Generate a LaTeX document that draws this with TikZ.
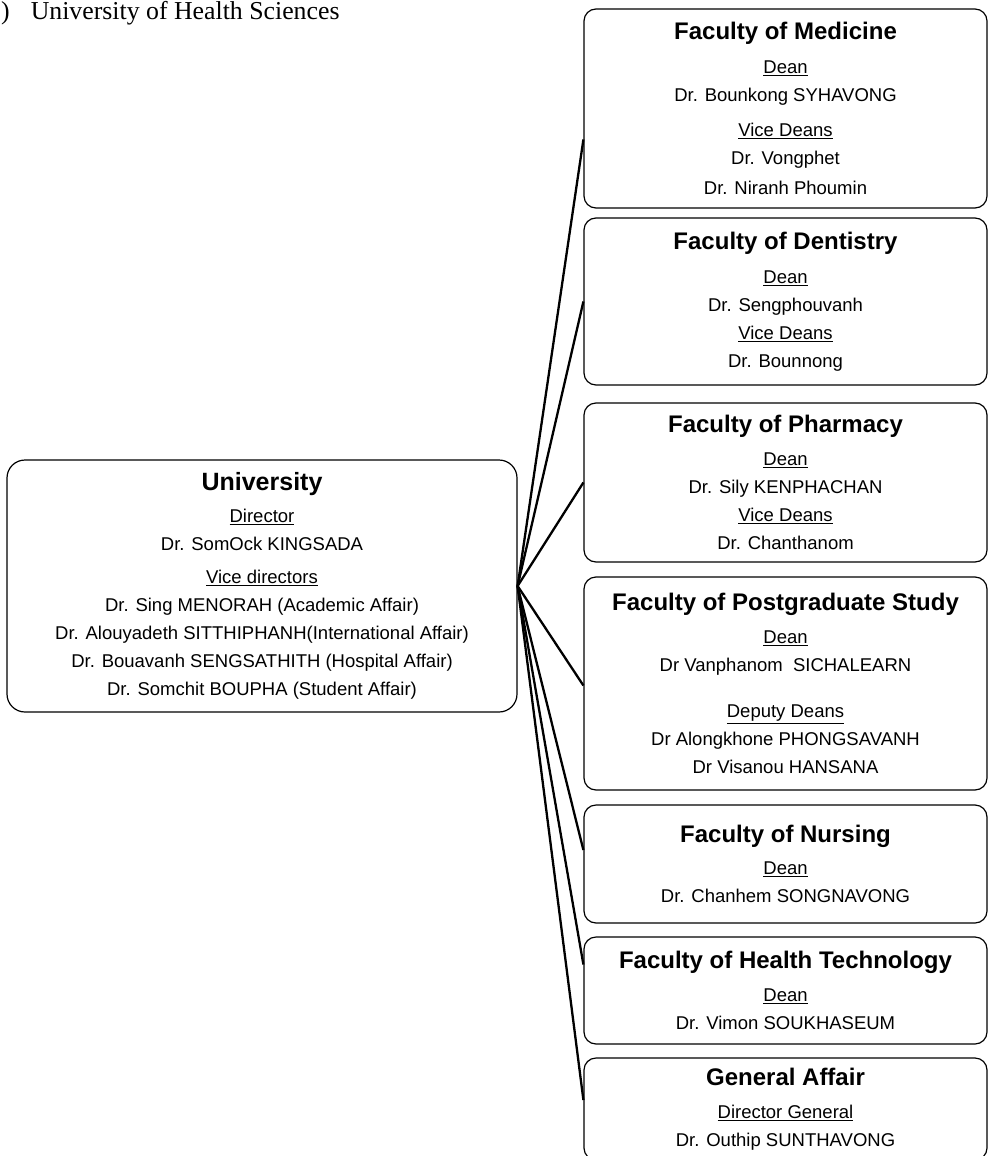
\documentclass[tikz,border=0pt]{standalone}
\usepackage{fontspec}
\setmainfont{Liberation Serif}
\setsansfont{Liberation Sans}
\usepackage{tikz}
\usetikzlibrary{positioning}
\newcommand{\headfont}{\fontsize{24}{28}\selectfont\bfseries}
\newcommand{\unifont}{\fontsize{25}{28}\selectfont\bfseries}
\tikzset{
  orgbox/.style={
    draw=black,
    line width=1.2pt,
    rounded corners=12pt,
    minimum width=403pt,
    inner sep=0pt,
    align=center,
    font=\sffamily\fontsize{18.5}{28}\selectfont,
    text=black
  },
  unibox/.style={
    orgbox,
    rounded corners=18pt,
    minimum width=510pt,
    minimum height=252pt
  },
  fanline/.style={
    line width=2.3pt,
    draw=black
  }
}

\begin{document}
\begin{tikzpicture}[x=1pt,y=-1pt]
\clip (0,0) rectangle (989,1156);
\fill[white] (0,0) rectangle (989,1156);
\node[anchor=base west, inner sep=0pt, font=\rmfamily\fontsize{25.8}{30}\selectfont] (heading) at (1,20) {)\hspace{21pt}University of Health Sciences};
\node[orgbox, minimum height=199pt] (medicine) at (785.5,108.5) {{\headfont Faculty of Medicine}\\[6pt]
  \underline{Dean}\\ Dr. Bounkong SYHAVONG\\[7pt]
  \underline{Vice Deans}\\ Dr. Vongphet\\[2pt] Dr. Niranh Phoumin};
\node[orgbox, minimum height=167pt] (dentistry) at (785.5,301.5) {{\headfont Faculty of Dentistry}\\[6pt]
  \underline{Dean}\\ Dr. Sengphouvanh\\
  \underline{Vice Deans}\\ Dr. Bounnong};
\node[orgbox, minimum height=159pt] (pharmacy) at (785.5,482.5) {{\headfont Faculty of Pharmacy}\\[5pt]
  \underline{Dean}\\ Dr. Sily KENPHACHAN\\
  \underline{Vice Deans}\\ Dr. Chanthanom};
\node[orgbox, minimum height=213pt] (postgrad) at (785.5,683.5) {{\headfont Faculty of Postgraduate Study}\\[5pt]
  \underline{Dean}\\ Dr Vanphanom\ \ SICHALEARN\\[18pt]
  \underline{Deputy Deans}\\ Dr Alongkhone PHONGSAVANH\\ Dr Visanou HANSANA};
\node[orgbox, minimum height=118pt] (nursing) at (785.5,864) {{\headfont Faculty of Nursing}\\[4pt]
  \underline{Dean}\\ Dr. Chanhem SONGNAVONG};
\node[orgbox, minimum height=107pt] (healthtech) at (785.5,990.5) {{\headfont Faculty of Health Technology}\\[5pt]
  \underline{Dean}\\ Dr. Vimon SOUKHASEUM};
\node[orgbox, minimum height=102pt] (general) at (785.5,1109) {{\headfont General Affair}\\[5pt]
  \underline{Director General}\\ Dr. Outhip SUNTHAVONG};
\node[unibox] (university) at (262,586) {{\unifont University}\\[4pt]
  \underline{Director}\\ Dr. SomOck KINGSADA\\[5pt]
  \underline{Vice directors}\\ Dr. Sing MENORAH (Academic Affair)\\
  Dr. Alouyadeth SITTHIPHANH(International Affair)\\
  Dr. Bouavanh SENGSATHITH (Hospital Affair)\\
  Dr. Somchit BOUPHA (Student Affair)};
\foreach \fac/\shift in {medicine/-31,dentistry/0,pharmacy/0,postgrad/-2,nursing/14,healthtech/26,general/9}
  \draw[fanline] (university.east) -- ([yshift=\shift pt]\fac.west);
\end{tikzpicture}
\end{document}
